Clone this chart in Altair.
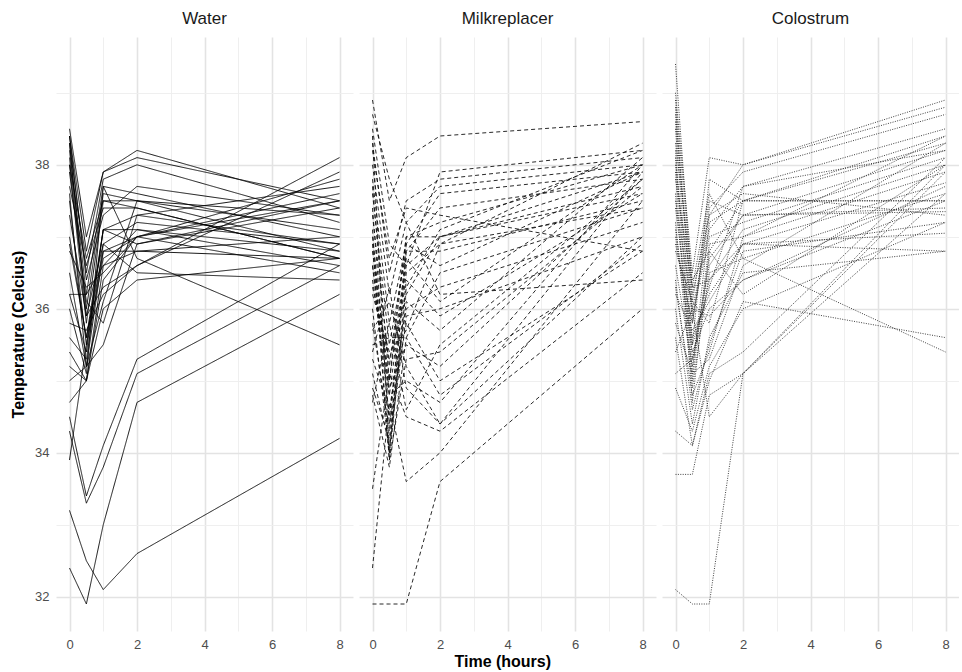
import altair as alt
import pandas as pd

times = [0, 0.5, 1, 2, 8]
groups = ["Water", "Milkreplacer", "Colostrum"]

# each row: temperature of one calf at 0, 0.5, 1, 2 and 8 hours
water = [
    [38.5, 37.0, 37.9, 38.2, 37.4],
    [38.4, 36.8, 37.9, 38.1, 37.5],
    [38.3, 36.5, 37.8, 38.0, 37.2],
    [38.2, 36.2, 37.7, 37.6, 37.0],
    [38.1, 36.0, 37.6, 37.5, 36.8],
    [38.0, 35.8, 37.5, 37.5, 37.1],
    [37.7, 36.6, 37.4, 37.4, 36.7],
    [37.5, 35.5, 37.1, 37.3, 37.7],
    [37.3, 35.9, 36.9, 37.2, 36.9],
    [37.0, 35.6, 37.1, 37.1, 36.6],
    [36.8, 36.3, 36.5, 37.0, 37.8],
    [36.5, 35.2, 36.8, 37.0, 36.5],
    [36.2, 35.4, 37.1, 36.9, 37.5],
    [36.2, 36.2, 36.6, 36.8, 36.7],
    [36.0, 35.1, 37.7, 36.7, 35.5],
    [35.8, 35.7, 36.2, 36.6, 37.9],
    [35.6, 35.3, 36.9, 36.5, 36.4],
    [35.4, 35.0, 36.0, 36.4, 36.7],
    [35.2, 35.0, 36.4, 37.0, 37.6],
    [37.9, 36.1, 35.8, 37.3, 36.9],
    [38.3, 35.9, 36.3, 36.6, 38.1],
    [34.7, 35.0, 36.6, 37.1, 36.8],
    [34.5, 33.4, 34.1, 35.3, 36.9],
    [34.3, 33.3, 33.8, 35.1, 36.6],
    [33.2, 32.5, 32.1, 32.6, 34.2],
    [32.4, 31.9, 33.0, 34.7, 36.2],
    [33.9, 35.5, 36.7, 37.0, 37.5],
    [38.4, 36.4, 37.3, 37.7, 37.3],
    [37.6, 35.2, 36.1, 37.5, 37.3],
    [36.9, 35.6, 36.8, 36.8, 37.0],
    [38.0, 36.7, 37.5, 37.4, 36.7],
    [35.0, 35.2, 35.5, 36.9, 37.4],
]

milkreplacer = [
    [38.9, 37.5, 38.1, 38.4, 38.6],
    [38.7, 37.8, 37.2, 36.2, 36.4],
    [38.5, 36.9, 36.6, 37.9, 38.2],
    [38.3, 36.5, 37.5, 37.8, 38.1],
    [38.0, 36.2, 37.2, 37.7, 38.0],
    [37.8, 35.8, 36.9, 37.6, 37.9],
    [37.6, 35.5, 36.8, 37.4, 37.8],
    [37.3, 35.2, 37.0, 37.2, 38.0],
    [37.0, 34.8, 36.6, 37.0, 37.9],
    [36.8, 35.0, 37.0, 37.0, 37.7],
    [36.6, 34.5, 36.5, 36.9, 38.3],
    [36.3, 35.3, 36.2, 37.0, 37.6],
    [36.0, 34.0, 36.8, 36.8, 37.5],
    [35.8, 34.3, 36.9, 36.6, 37.9],
    [35.5, 35.6, 35.6, 36.5, 37.4],
    [35.3, 34.6, 36.0, 36.3, 37.2],
    [35.1, 34.1, 35.9, 36.0, 37.0],
    [34.9, 34.2, 36.1, 35.7, 38.1],
    [34.7, 35.8, 34.6, 35.5, 37.8],
    [36.9, 33.9, 35.3, 35.4, 37.7],
    [37.4, 34.4, 35.8, 35.0, 36.8],
    [36.4, 34.8, 35.0, 34.7, 38.0],
    [35.7, 36.1, 35.2, 34.4, 37.9],
    [33.5, 35.1, 34.5, 34.3, 36.5],
    [32.4, 34.7, 33.6, 34.0, 37.5],
    [31.9, 31.9, 31.9, 33.6, 36.0],
    [38.2, 36.7, 37.4, 37.3, 36.8],
    [37.1, 33.9, 36.3, 37.1, 38.2],
    [36.2, 35.4, 35.7, 36.9, 37.4],
    [35.4, 36.3, 34.9, 34.4, 37.0],
    [38.4, 34.0, 36.4, 35.9, 37.6],
    [37.7, 35.0, 36.7, 36.1, 38.0],
    [36.6, 34.9, 35.5, 35.2, 37.8],
    [34.8, 33.8, 35.6, 34.8, 36.9],
]

colostrum = [
    [39.4, 36.2, 37.3, 38.0, 38.9],
    [39.0, 36.5, 38.1, 38.0, 38.8],
    [38.8, 35.8, 37.4, 37.9, 38.7],
    [38.6, 36.0, 37.1, 37.7, 38.5],
    [38.5, 35.5, 37.8, 37.5, 38.4],
    [38.3, 36.4, 36.8, 37.5, 38.3],
    [38.2, 35.3, 36.6, 37.3, 38.2],
    [38.0, 35.9, 37.0, 37.2, 38.1],
    [37.8, 36.3, 36.4, 37.1, 38.0],
    [37.6, 35.0, 36.9, 37.0, 37.9],
    [37.4, 35.6, 36.2, 36.9, 37.75],
    [37.2, 34.9, 36.5, 36.7, 37.6],
    [37.0, 35.4, 36.0, 36.4, 37.5],
    [36.8, 36.1, 35.8, 37.5, 37.5],
    [36.6, 35.2, 36.7, 37.3, 37.35],
    [36.4, 34.6, 35.5, 36.8, 37.2],
    [36.2, 35.7, 36.1, 36.9, 37.05],
    [36.0, 34.4, 35.6, 36.5, 36.8],
    [35.8, 35.1, 35.3, 36.6, 38.3],
    [35.6, 34.1, 35.1, 35.4, 38.1],
    [35.4, 36.0, 34.5, 35.1, 37.9],
    [34.3, 34.1, 35.0, 36.1, 35.6],
    [33.7, 33.7, 34.8, 35.1, 38.0],
    [32.1, 31.9, 31.9, 35.1, 37.6],
    [38.9, 36.3, 37.6, 36.7, 35.4],
    [38.1, 35.1, 37.2, 37.5, 37.5],
    [37.5, 36.0, 35.9, 36.4, 37.7],
    [37.1, 35.5, 36.3, 37.7, 38.2],
    [36.3, 34.8, 35.4, 37.0, 38.4],
    [35.1, 35.3, 36.4, 36.9, 36.8],
    [38.7, 36.1, 37.5, 37.3, 37.4],
    [37.9, 34.7, 36.8, 36.2, 38.0],
    [36.9, 35.8, 37.3, 37.6, 37.3],
    [34.9, 34.3, 35.2, 36.0, 37.2],
]

records = []
for g, series in zip(groups, [water, milkreplacer, colostrum]):
    for i, row in enumerate(series):
        for t, v in zip(times, row):
            records.append({"group": g, "calf": f"{g}-{i}", "time": t, "temp": v})
df = pd.DataFrame(records)

even_test = "datum.value % 2 === 0"
grid_width = {"condition": {"test": even_test, "value": 1.6}, "value": 0.9}
grid_color = {"condition": {"test": even_test, "value": "#e3e3e3"}, "value": "#ededed"}

base = alt.Chart(df).mark_line(strokeWidth=0.9).encode(
    x=alt.X(
        "time:Q",
        scale=alt.Scale(domain=[-0.4, 8.4], nice=False, zero=False),
        axis=alt.Axis(
            values=list(range(0, 9)),
            labelExpr="datum.value % 2 === 0 ? datum.label : ''",
            title=None,
            gridWidth=grid_width,
            gridColor=grid_color,
            labelPadding=7,
        ),
    ),
    y=alt.Y(
        "temp:Q",
        scale=alt.Scale(domain=[31.525, 39.775], nice=False, zero=False),
        axis=alt.Axis(
            values=list(range(32, 40)),
            labelExpr="datum.value % 2 === 0 ? datum.label : ''",
            title="Temperature (Celcius)",
            gridWidth=grid_width,
            gridColor=grid_color,
            labelPadding=7,
            titlePadding=8,
        ),
    ),
    detail="calf:N",
    color=alt.Color(
        "group:N",
        scale=alt.Scale(domain=groups, range=["#000000", "#111111", "#2a2a2a"]),
        legend=None,
    ),
    strokeDash=alt.StrokeDash(
        "group:N",
        scale=alt.Scale(domain=groups, range=[[1, 0], [4, 3], [1, 1.4]]),
        legend=None,
    ),
).properties(width=297, height=594)

chart = base.facet(
    column=alt.Column(
        "group:N",
        sort=groups,
        title=None,
        header=alt.Header(
            labelFontSize=17,
            labelFont="Liberation Sans",
            labelColor="#1a1a1a",
            labelPadding=9,
        ),
    ),
    spacing=6,
).properties(
    padding={"left": 10, "top": 10, "right": 0, "bottom": 2},
    background="white",
    title=alt.TitleParams(
        text="Time (hours)",
        orient="bottom",
        anchor="middle",
        font="Liberation Sans",
        fontSize=16,
        fontWeight="bold",
        color="#000000",
        offset=3,
        dx=18,
    ),
).configure_view(
    stroke=None
).configure_axis(
    domain=False,
    ticks=False,
    labelFont="Liberation Sans",
    labelFontSize=13,
    labelColor="#4d4d4d",
    titleFont="Liberation Sans",
    titleFontSize=16,
    titleFontWeight="bold",
    titleColor="#000000",
)

chart.save("out.html", embed_options={"renderer": "svg", "actions": False})
